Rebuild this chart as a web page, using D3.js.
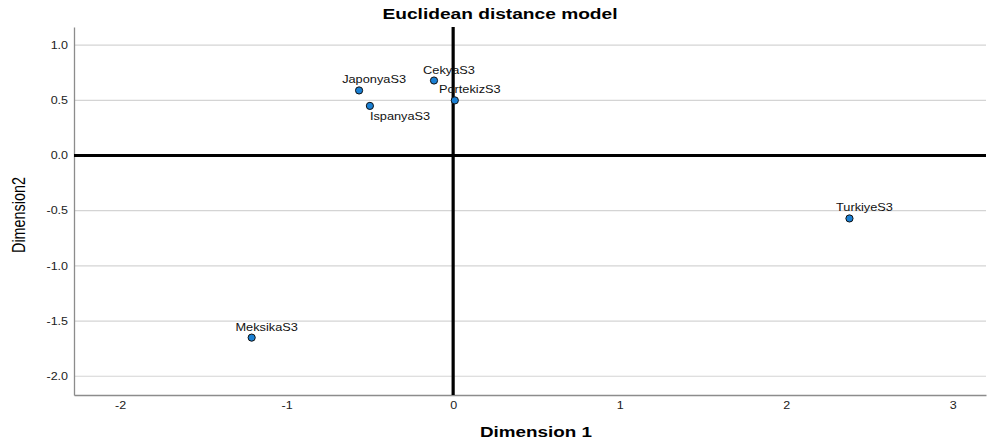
<!DOCTYPE html>
<html>
<head>
<meta charset="utf-8">
<script src="https://cdn.jsdelivr.net/npm/d3@7"></script>
<style>
  body { margin: 0; background: #fff; }
  text { font-family: "Liberation Sans", Arial, sans-serif; }
</style>
</head>
<body>
<div id="chart"></div>
<script>
// stimulus coordinates
var names = ['JaponyaS3', 'IspanyaS3', 'CekyaS3', 'PortekizS3', 'TurkiyeS3', 'MeksikaS3'];
var dim1 = [-0.565, -0.50, -0.115, 0.01, 2.38, -1.21];
var dim2 = [0.59, 0.45, 0.68, 0.50, -0.57, -1.65];
var xTicks = [-2, -1, 0, 1, 2, 3];
var yTicks = [1.0, 0.5, 0.0, -0.5, -1.0, -1.5, -2.0];

var width = 988, height = 443;
var mLeft = 74, mRight = 986, mTop = 27, mBottom = 395;

var x = d3.scaleLinear().domain([-2.277, 3.2]).range([mLeft, mRight]);
var y = d3.scaleLinear().domain([-2.17, 1.165]).range([mBottom, mTop]);

var svg = d3.select('#chart').append('svg')
    .attr('width', width)
    .attr('height', height);

// widen glyphs a bit, the original output is stretched horizontally
function widen(sel, k) {
  sel.each(function(){
    var len = this.getComputedTextLength();
    d3.select(this).attr('textLength', len * k).attr('lengthAdjust', 'spacingAndGlyphs');
  });
}

// horizontal grid
svg.append('g').selectAll('line')
    .data(yTicks.filter(function(d){ return d != 0; }))
    .enter().append('line')
    .attr('x1', mLeft).attr('x2', mRight)
    .attr('y1', function(d){ return y(d); })
    .attr('y2', function(d){ return y(d); })
    .style('stroke', '#d4d4d4')
    .style('stroke-width', 1.2);

// axes
var yAxis = svg.append('g')
    .attr('transform', 'translate(' + mLeft + ',0)')
    .call(d3.axisLeft(y).tickValues(yTicks).tickSize(0).tickPadding(6)
      .tickFormat(function(d){ return d.toFixed(1); }));
var xAxis = svg.append('g')
    .attr('transform', 'translate(0,' + mBottom + ')')
    .call(d3.axisBottom(x).tickValues(xTicks).tickSize(0).tickPadding(7)
      .tickFormat(function(d){ return String(d); }));

[yAxis, xAxis].forEach(function(a){
  a.select('.domain').style('stroke', '#8c8c8c').style('stroke-width', 1.3);
  a.selectAll('text').style('font-size', '10px')
      .style('fill', '#222')
      .style('font-family', '"Liberation Sans", Arial, sans-serif')
      .call(widen, 1.25);
});

// zero lines
svg.append('line')
    .attr('x1', mLeft).attr('x2', mRight)
    .attr('y1', y(0)).attr('y2', y(0))
    .style('stroke', '#000').style('stroke-width', 3);
svg.append('line')
    .attr('x1', x(0)).attr('x2', x(0))
    .attr('y1', mTop).attr('y2', mBottom)
    .style('stroke', '#000').style('stroke-width', 3.2);

// points
var pts = names.map(function(n, i){ return {name: n, d1: dim1[i], d2: dim2[i]}; });

svg.append('g').selectAll('circle')
    .data(pts)
    .enter().append('circle')
    .attr('cx', function(d){ return x(d.d1); })
    .attr('cy', function(d){ return y(d.d2); })
    .attr('r', 3.6)
    .style('fill', '#1a80d4')
    .style('stroke', '#111')
    .style('stroke-width', 1);

svg.append('g').selectAll('text')
    .data(pts)
    .enter().append('text')
    .attr('x', function(d){ return d.name == 'IspanyaS3' ? x(d.d1) : x(d.d1) + 15; })
    .attr('y', function(d){ return d.name == 'IspanyaS3' ? y(d.d2) + 14 : y(d.d2) - 7; })
    .attr('text-anchor', function(d){ return d.name == 'IspanyaS3' ? 'start' : 'middle'; })
    .style('font-size', '11px')
    .style('fill', '#111')
    .text(function(d){ return d.name; })
    .call(widen, 1.16);

// title and axis titles
svg.append('text')
    .attr('x', 500).attr('y', 19)
    .attr('text-anchor', 'middle')
    .attr('textLength', 235).attr('lengthAdjust', 'spacingAndGlyphs')
    .style('font-size', '14px').style('font-weight', 'bold')
    .text('Euclidean distance model');

svg.append('text')
    .attr('x', 536).attr('y', 437)
    .attr('text-anchor', 'middle')
    .attr('textLength', 112).attr('lengthAdjust', 'spacingAndGlyphs')
    .style('font-size', '14px').style('font-weight', 'bold')
    .text('Dimension 1');

svg.append('text')
    .attr('transform', 'translate(25,' + ((mTop + mBottom) / 2 + 4) + ') rotate(-90)')
    .attr('text-anchor', 'middle')
    .attr('textLength', 76).attr('lengthAdjust', 'spacingAndGlyphs')
    .style('font-size', '19px')
    .text('Dimension2');
</script>
</body>
</html>
